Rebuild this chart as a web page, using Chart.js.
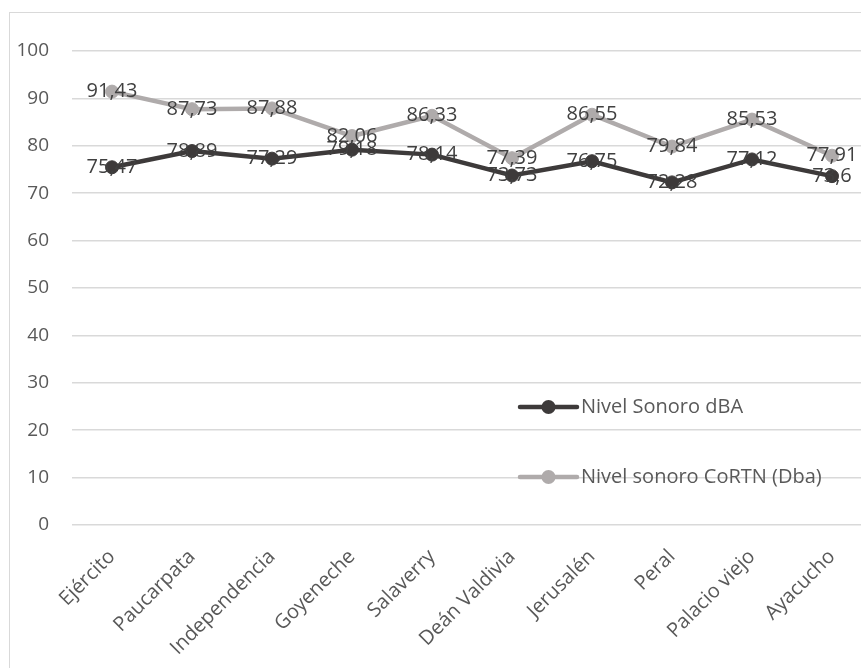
<!DOCTYPE html>
<html>
<head>
<meta charset="utf-8">
<script src="https://cdn.jsdelivr.net/npm/chart.js@4/dist/chart.umd.min.js"></script>
<style>
  html, body { margin: 0; padding: 0; background: #fff; overflow: hidden; }
  #frame {
    position: absolute; left: 9px; top: 12px;
    width: 880px; height: 700px;
    border: 1px solid #d9d9d9; background: #fff;
  }
  #chart { display: block; }
</style>
</head>
<body>
<div id="frame"><canvas id="chart" width="880" height="700"></canvas></div>
<script>
// Street names (measurement points)
const categories = ['Ejército', 'Paucarpata', 'Independencia', 'Goyeneche', 'Salaverry',
  'Deán Valdivia', 'Jerusalén', 'Peral', 'Palacio viejo', 'Ayacucho'];
// Measured sound level, dBA
const nivelSonoro = [75.47, 78.89, 77.29, 79.18, 78.14, 73.73, 76.75, 72.28, 77.12, 73.6];
// Sound level estimated with CoRTN
const nivelCortn = [91.43, 87.73, 87.88, 82.06, 86.33, 77.39, 86.55, 79.84, 85.53, 77.91];
const seriesNames = ['Nivel Sonoro dBA', 'Nivel sonoro CoRTN (Dba)'];
const yTicks = [0, 10, 20, 30, 40, 50, 60, 70, 80, 90, 100];

const FONT = '"Open Sans", "Noto Sans", sans-serif';
const DARK = '#3d3a3a';
const LIGHT = '#afabab';

// Value labels drawn centred on each marker, decimal comma
const valueLabels = {
  id: 'valueLabels',
  afterDatasetsDraw(chart) {
    const ctx = chart.ctx;
    ctx.save();
    ctx.font = '20px ' + FONT;
    ctx.fillStyle = '#404040';
    ctx.textAlign = 'center';
    ctx.textBaseline = 'middle';
    chart.data.datasets.forEach((ds, i) => {
      chart.getDatasetMeta(i).data.forEach((pt, j) => {
        ctx.fillText(String(ds.data[j]).replace('.', ','), pt.x, pt.y);
      });
    });
    ctx.restore();
  }
};

// Legend placed inside the plot area, no background
const innerLegend = {
  id: 'innerLegend',
  afterDraw(chart, args, opts) {
    const ctx = chart.ctx;
    const a = chart.chartArea;
    ctx.save();
    ctx.font = '20px ' + FONT;
    ctx.textBaseline = 'middle';
    ctx.textAlign = 'left';
    chart.data.datasets.forEach((ds, i) => {
      const y = a.top + opts.top + i * opts.gap;
      const x0 = a.left + opts.left;
      const x1 = x0 + opts.lineLen;
      ctx.strokeStyle = ds.borderColor;
      ctx.lineWidth = ds.borderWidth;
      ctx.lineCap = 'round';
      ctx.beginPath(); ctx.moveTo(x0, y); ctx.lineTo(x1, y); ctx.stroke();
      ctx.fillStyle = ds.pointBackgroundColor;
      ctx.beginPath(); ctx.arc((x0 + x1) / 2, y, ds.pointRadius + 0.5, 0, Math.PI * 2); ctx.fill();
      ctx.fillStyle = '#595959';
      ctx.fillText(ds.label, x1 + 4, y);
    });
    ctx.restore();
  }
};

function makeSeries(label, data, color) {
  return {
    label, data,
    borderColor: color,
    backgroundColor: color,
    pointBackgroundColor: color,
    pointBorderColor: color,
    borderWidth: 4.5,
    pointRadius: 6.5,
    pointBorderWidth: 1,
    tension: 0,
    fill: false
  };
}

new Chart(document.getElementById('chart'), {
  type: 'line',
  data: {
    labels: categories,
    datasets: [
      makeSeries(seriesNames[0], nivelSonoro, DARK),
      makeSeries(seriesNames[1], nivelCortn, LIGHT)
    ]
  },
  options: {
    responsive: false,
    animation: false,
    events: [],
    layout: { padding: { left: 0, right: 18, top: 38, bottom: 0 } },
    plugins: {
      legend: { display: false },
      tooltip: { enabled: false },
      innerLegend: { left: 448, top: 356, gap: 70, lineLen: 57 }
    },
    scales: {
      x: {
        offset: true,
        grid: { display: false },
        border: { display: false },
        ticks: {
          font: { family: FONT, size: 20 },
          color: '#595959',
          maxRotation: 45, minRotation: 45,
          padding: 12,
          autoSkip: false
        },
        afterFit(scale) { scale.height = 188; }
      },
      y: {
        min: 0, max: 100,
        afterBuildTicks(scale) { scale.ticks = yTicks.map(v => ({ value: v })); },
        grid: { color: '#d9d9d9', lineWidth: 1.5, drawTicks: false },
        border: { display: false },
        ticks: {
          font: { family: FONT, size: 19 },
          color: '#595959',
          padding: 23
        },
        afterFit(scale) { scale.width = 62; }
      }
    }
  },
  plugins: [valueLabels, innerLegend]
});
</script>
</body>
</html>
